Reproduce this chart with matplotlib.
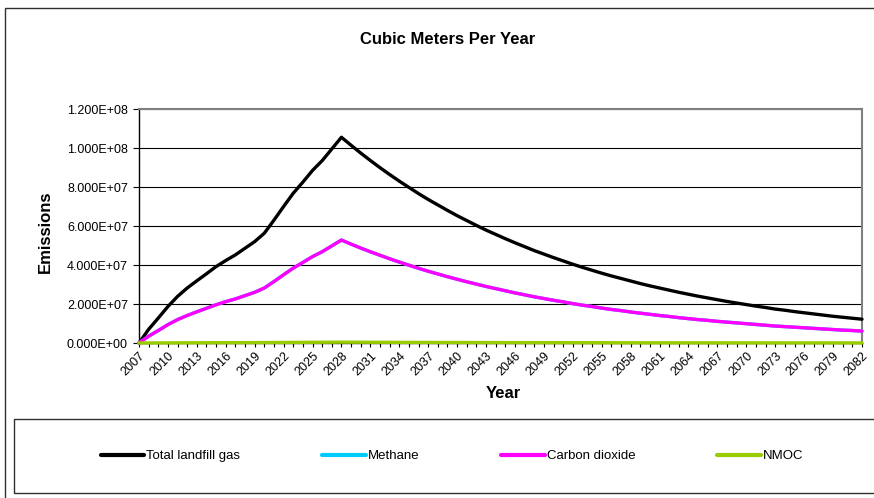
import matplotlib
matplotlib.use("Agg")
import matplotlib.pyplot as plt
from matplotlib.patches import Rectangle
from matplotlib.ticker import MultipleLocator, FuncFormatter

plt.rcParams['font.family'] = ['Liberation Sans', 'DejaVu Sans']

# years 2007..2082, values in cubic meters per year (in millions)
years = list(range(2007, 2083))

total_gas = [
    0.0, 7.0, 12.8, 18.7, 23.9, 28.2, 31.9, 35.5, 39.2, 42.3,
    45.2, 48.6, 52.0, 56.3, 63.0, 70.0, 76.8, 82.5, 88.5, 93.5,
    99.5, 105.5, 101.4, 97.4, 93.6, 89.9, 86.4, 83.0, 79.8, 76.6,
    73.6, 70.8, 68.0, 65.3, 62.8, 60.3, 57.9, 55.7, 53.5, 51.4,
    49.4, 47.4, 45.6, 43.8, 42.1, 40.4, 38.8, 37.3, 35.8, 34.4,
    33.1, 31.8, 30.5, 29.3, 28.2, 27.1, 26.0, 25.0, 24.0, 23.1,
    22.2, 21.3, 20.5, 19.7, 18.9, 18.2, 17.4, 16.8, 16.1, 15.5,
    14.9, 14.3, 13.7, 13.2, 12.7, 12.2,
]

methane = [
    0.0, 3.5, 6.4, 9.4, 12.0, 14.1, 16.0, 17.8, 19.6, 21.2,
    22.6, 24.3, 26.0, 28.2, 31.5, 35.0, 38.4, 41.3, 44.3, 46.8,
    49.8, 52.8, 50.7, 48.7, 46.8, 45.0, 43.2, 41.5, 39.9, 38.3,
    36.8, 35.4, 34.0, 32.7, 31.4, 30.2, 29.0, 27.9, 26.8, 25.7,
    24.7, 23.7, 22.8, 21.9, 21.1, 20.2, 19.4, 18.7, 17.9, 17.2,
    16.6, 15.9, 15.3, 14.7, 14.1, 13.6, 13.0, 12.5, 12.0, 11.6,
    11.1, 10.7, 10.3, 9.9, 9.5, 9.1, 8.7, 8.4, 8.1, 7.8,
    7.5, 7.2, 6.9, 6.6, 6.4, 6.1,
]

carbon_dioxide = [
    0.0, 3.5, 6.4, 9.4, 12.0, 14.1, 16.0, 17.8, 19.6, 21.2,
    22.6, 24.3, 26.0, 28.2, 31.5, 35.0, 38.4, 41.3, 44.3, 46.8,
    49.8, 52.8, 50.7, 48.7, 46.8, 45.0, 43.2, 41.5, 39.9, 38.3,
    36.8, 35.4, 34.0, 32.7, 31.4, 30.2, 29.0, 27.9, 26.8, 25.7,
    24.7, 23.7, 22.8, 21.9, 21.1, 20.2, 19.4, 18.7, 17.9, 17.2,
    16.6, 15.9, 15.3, 14.7, 14.1, 13.6, 13.0, 12.5, 12.0, 11.6,
    11.1, 10.7, 10.3, 9.9, 9.5, 9.1, 8.7, 8.4, 8.1, 7.8,
    7.5, 7.2, 6.9, 6.6, 6.4, 6.1,
]

nmoc = [
    0.0, 0.03, 0.05, 0.07, 0.10, 0.11, 0.13, 0.14, 0.16, 0.17,
    0.18, 0.19, 0.21, 0.23, 0.25, 0.28, 0.31, 0.33, 0.36, 0.38,
    0.40, 0.42, 0.41, 0.39, 0.37, 0.36, 0.35, 0.33, 0.32, 0.31,
    0.29, 0.28, 0.27, 0.26, 0.25, 0.24, 0.23, 0.22, 0.21, 0.21,
    0.20, 0.19, 0.18, 0.18, 0.17, 0.16, 0.16, 0.15, 0.14, 0.14,
    0.13, 0.13, 0.12, 0.12, 0.11, 0.11, 0.10, 0.10, 0.10, 0.09,
    0.09, 0.09, 0.08, 0.08, 0.08, 0.07, 0.07, 0.07, 0.06, 0.06,
    0.06, 0.06, 0.05, 0.05, 0.05, 0.05,
]

series = [
    ("Total landfill gas", total_gas, "#000000"),
    ("Methane", methane, "#00CCFF"),
    ("Carbon dioxide", carbon_dioxide, "#FF00FF"),
    ("NMOC", nmoc, "#99CC00"),
]

W, H = 874, 498
fig = plt.figure(figsize=(W / 100, H / 100), dpi=100)


def px(x0, y0, x1, y1):
    """Pixel box (top-left origin) -> figure fraction rect."""
    return [x0 / W, 1 - y1 / H, (x1 - x0) / W, (y1 - y0) / H]


# outer chart frame and the legend box, both run off the right edge
fig.patches.append(Rectangle((5 / W, -0.05), 1.0, 1 - 8 / H + 0.05,
                             transform=fig.transFigure, fill=False,
                             edgecolor="#303030", linewidth=1.0))
fig.patches.append(Rectangle((14 / W, 1 - 493 / H), 1.0, (493 - 419) / H,
                             transform=fig.transFigure, fill=False,
                             edgecolor="#303030", linewidth=1.0))

ax = fig.add_axes(px(139, 109, 862, 343))

for i, (name, vals, color) in enumerate(series):
    ax.plot(years, [v * 1e6 for v in vals], color=color, linewidth=2.4,
            solid_capstyle="round", solid_joinstyle="round", label=name,
            clip_on=False, zorder=3 + i)

ax.set_xlim(2007, 2082)
ax.set_ylim(0, 1.2e8)
ax.yaxis.set_major_locator(MultipleLocator(2e7))
ax.yaxis.set_major_formatter(FuncFormatter(lambda v, _: f"{v:.3E}"))
ax.xaxis.set_major_locator(MultipleLocator(3))
ax.xaxis.set_minor_locator(MultipleLocator(1))
ax.xaxis.set_major_formatter(FuncFormatter(lambda v, _: f"{int(round(v))}"))

ax.grid(axis="y", color="#000000", linewidth=0.8)
ax.set_axisbelow(True)

for side in ("top", "right"):
    ax.spines[side].set_color("#808080")
    ax.spines[side].set_linewidth(1.5)
for side in ("left", "bottom"):
    ax.spines[side].set_color("#000000")
    ax.spines[side].set_linewidth(1.0)

ax.tick_params(axis="y", direction="out", length=4, width=0.8, pad=4,
               labelsize=9)
ax.tick_params(axis="x", which="both", direction="out", length=3, width=0.8,
               pad=2, labelsize=9)
for lbl in ax.get_xticklabels():
    lbl.set_rotation(45)
    lbl.set_ha("right")
    lbl.set_rotation_mode("anchor")

fig.text(448 / W, 1 - 40 / H, "Cubic Meters Per Year", ha="center",
         va="center", fontsize=12, fontweight="bold")
fig.text(45 / W, 1 - 232 / H, "Emissions", ha="center", va="center",
         rotation=90, fontsize=12, fontweight="bold")
fig.text(503 / W, 1 - 394 / H, "Year", ha="center", va="center",
         fontsize=12, fontweight="bold")

leg = fig.legend(loc="center", bbox_to_anchor=(452 / W, 1 - 456 / H),
                 ncol=4, frameon=False, fontsize=9.5, handlelength=3.3,
                 handletextpad=0.15, columnspacing=6.2)
for line in leg.get_lines():
    line.set_linewidth(3.0)
    line.set_solid_capstyle("round")

fig.savefig("out.png", dpi=100)
